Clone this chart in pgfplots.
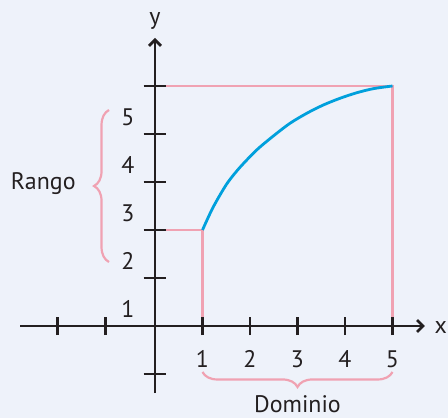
\documentclass[border=0pt]{standalone}
\usepackage{pgfplots}
\pgfplotsset{compat=1.18}
\usepackage{fontspec}
\setmainfont{PT Sans}
\usetikzlibrary{arrows.meta,decorations.pathreplacing}

\definecolor{bg}{RGB}{238,242,250}
\definecolor{ink}{RGB}{35,31,32}
\definecolor{rosa}{RGB}{240,162,178}
\definecolor{azul}{RGB}{0,160,220}

\begin{document}
\begin{tikzpicture}
\begin{axis}[
  scale only axis,
  hide axis,
  width=448bp, height=418bp,
  xmin=-3.2632, xmax=6.1684,
  ymin=-1.9167, ymax=6.7917,
  clip=false,
]
% fondo
\fill[bg] (axis cs:-3.2632,-1.9167) rectangle (axis cs:6.1684,6.7917);

% lineas guia
\draw[rosa, line width=2.5bp] (axis cs:0,5) -- (axis cs:5,5) -- (axis cs:5,0);
\draw[rosa, line width=2.5bp] (axis cs:0,2) -- (axis cs:1,2) -- (axis cs:1,0);

% funcion
\addplot[azul, line width=2.8bp, smooth] coordinates {
(1.000,2.000) (1.194,2.417) (1.368,2.729) (1.543,3.006) (1.789,3.306)
(2.141,3.667) (2.491,3.958) (2.842,4.223) (3.194,4.431) (3.543,4.604)
(3.895,4.744) (4.250,4.860) (4.600,4.945) (5.000,5.000)
};

% ejes
\draw[ink, line width=2.8bp, -{Straight Barb[length=6bp,width=12bp]}]
  (axis cs:-2.842,0) -- (axis cs:5.684,0);
\draw[ink, line width=2.8bp, -{Straight Barb[length=6bp,width=12bp]}]
  (axis cs:0,-1.396) -- (axis cs:0,6.0);
\pgfplotsinvokeforeach{-2.05,-1.04,1,2,3,4,5}{
  \draw[ink, line width=2.6bp] (axis cs:#1,-0.19) -- (axis cs:#1,0.19);
}
\pgfplotsinvokeforeach{-1,1,2,3,4,5}{
  \draw[ink, line width=2.6bp] (axis cs:-0.24,#1) -- (axis cs:0.24,#1);
}

% etiquetas
\pgfplotsinvokeforeach{1,2,3,4,5}{
  \node[ink, anchor=base, font=\fontsize{24}{28}\selectfont, inner sep=0pt]
    at (axis cs:#1,-0.861) {#1};
  \node[ink, anchor=base, font=\fontsize{24}{28}\selectfont, inner sep=0pt]
    at (axis cs:-0.57,#1-0.82) {#1};
}
\node[ink, anchor=base, font=\fontsize{24}{28}\selectfont, inner sep=0pt]
  at (axis cs:0,6.29) {y};
\node[ink, anchor=center, font=\fontsize{24}{28}\selectfont, inner sep=0pt]
  at (axis cs:6.015,-0.03) {x};
\node[ink, anchor=base, font=\fontsize{24}{28}\selectfont, inner sep=0pt]
  at (axis cs:-2.352,2.848) {Rango};
\node[ink, anchor=base, font=\fontsize{24}{28}\selectfont, inner sep=0pt]
  at (axis cs:3,-1.81) {Dominio};

% llaves
\draw[rosa, line width=2.2bp, decorate, decoration={brace, amplitude=15bp}]
  (axis cs:-0.968,1.333) -- (axis cs:-0.968,4.5);
\draw[rosa, line width=2.2bp, decorate, decoration={brace, amplitude=15bp}]
  (axis cs:5,-0.958) -- (axis cs:1,-0.958);
\end{axis}
\end{tikzpicture}
\end{document}
